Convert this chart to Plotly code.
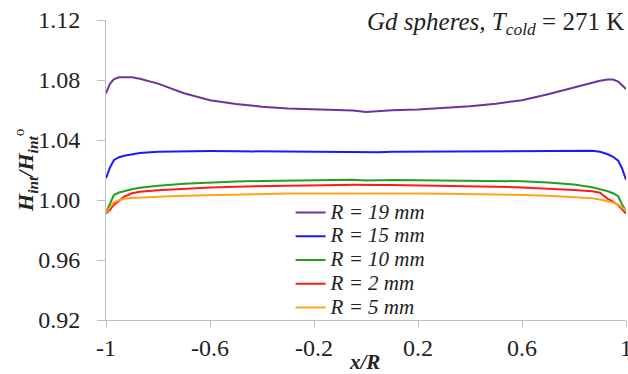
import plotly.graph_objects as go

# ---- data ----
x_pos = [-1, -0.985, -0.97, -0.95, -0.93, -0.9, -0.87, -0.8, -0.7, -0.6, -0.5, -0.4, -0.3,
         -0.2, -0.1, -0.05, 0, 0.05, 0.1, 0.2, 0.3, 0.4, 0.5, 0.6, 0.7, 0.8, 0.87, 0.9,
         0.93, 0.95, 0.97, 0.985, 1]

r19 = [1.0710, 1.0775, 1.0805, 1.0818, 1.0819, 1.0818, 1.0808, 1.0776, 1.0712, 1.0665,
       1.0640, 1.0622, 1.0610, 1.0603, 1.0598, 1.0596, 1.0587, 1.0595, 1.0598, 1.0603,
       1.0612, 1.0625, 1.0642, 1.0665, 1.0705, 1.0752, 1.0783, 1.0795, 1.0803, 1.0803,
       1.0790, 1.0762, 1.0740]
r15 = [1.0145, 1.0215, 1.0265, 1.0285, 1.0295, 1.0305, 1.0313, 1.0322, 1.0325, 1.0326,
       1.0325, 1.0324, 1.0323, 1.0322, 1.0320, 1.0319, 1.0316, 1.0319, 1.0321, 1.0322,
       1.0323, 1.0325, 1.0327, 1.0328, 1.0329, 1.0330, 1.0328, 1.0322, 1.0305, 1.0288,
       1.0262, 1.0210, 1.0135]
r10 = [0.9915, 0.9980, 1.0033, 1.0050, 1.0060, 1.0072, 1.0082, 1.0095, 1.0108, 1.0117,
       1.0123, 1.0127, 1.0130, 1.0132, 1.0133, 1.0135, 1.0130, 1.0133, 1.0133, 1.0132,
       1.0131, 1.0130, 1.0129, 1.0125, 1.0117, 1.0103, 1.0085, 1.0073, 1.0058, 1.0045,
       1.0025, 0.9970, 0.9925]
r2 = [0.9910, 0.9935, 0.9967, 0.9995, 1.0022, 1.0045, 1.0055, 1.0065, 1.0076, 1.0083,
      1.0089, 1.0093, 1.0097, 1.0099, 1.0100, 1.0101, 1.0098, 1.0100, 1.0100, 1.0098,
      1.0096, 1.0093, 1.0089, 1.0084, 1.0077, 1.0067, 1.0058, 1.0048, 1.0008, 0.9990,
      0.9965, 0.9935, 0.9910]
r5 = [0.9915, 0.9950, 0.9985, 1.0000, 1.0008, 1.0013, 1.0017, 1.0022, 1.0028, 1.0033,
      1.0038, 1.0041, 1.0043, 1.0044, 1.0045, 1.0046, 1.0043, 1.0045, 1.0045, 1.0044,
      1.0042, 1.0040, 1.0038, 1.0034, 1.0028, 1.0021, 1.0012, 1.0003, 0.9993, 0.9983,
      0.9970, 0.9950, 0.9928]

series_names = ["R = 19 mm", "R = 15 mm", "R = 10 mm", "R = 2 mm", "R = 5 mm"]
series_values = [r19, r15, r10, r2, r5]
series_colors = ["#7030A0", "#1A1AFF", "#20A020", "#FF1A1A", "#FFA31A"]

x_ticks = [-1, -0.6, -0.2, 0.2, 0.6, 1]
x_tick_labels = ["-1", "-0.6", "-0.2", "0.2", "0.6", "1"]
y_ticks = [0.92, 0.96, 1.00, 1.04, 1.08, 1.12]
y_tick_labels = ["0.92", "0.96", "1.00", "1.04", "1.08", "1.12"]

SERIF = "Liberation Serif"
TICKFONT = dict(family=SERIF, size=24, color="#222222")

fig = go.Figure()
for name, vals, col in zip(series_names, series_values, series_colors):
    fig.add_trace(go.Scatter(x=x_pos, y=vals, mode="lines",
                             name="<span style='font-size:21px'>" + name + "</span>",
                             line=dict(color=col, width=2)))

fig.update_layout(
    xaxis=dict(range=[-1, 1], tickmode="array", tickvals=x_ticks, ticktext=x_tick_labels,
               showgrid=False, zeroline=False, showline=True, automargin=False,
               linecolor="#BFBFBF", linewidth=1, ticks="outside", ticklen=6,
               tickcolor="#BFBFBF", tickwidth=1, tickfont=TICKFONT,
               ticklabeloverflow="allow"),
    yaxis=dict(range=[0.92, 1.12], tickmode="array", tickvals=y_ticks, ticktext=y_tick_labels,
               showgrid=False, zeroline=False, showline=True, automargin=False,
               linecolor="#BFBFBF", linewidth=1, ticks="outside", ticklen=8,
               ticklabelstandoff=12,
               tickcolor="#BFBFBF", tickwidth=1, tickfont=TICKFONT),
)

fig.add_annotation(text="<b><i>H</i></b><sub><b><i>int</i></b></sub><b><i>/H</i></b><sub><b><i>int</i></b></sub><sup>o</sup>",
                   xref="paper", yref="paper", x=-0.156, y=0.5, textangle=-90,
                   xanchor="center", yanchor="middle",
                   showarrow=False, font=dict(family=SERIF, size=22, color="#222222"))
fig.add_annotation(text="<b><i>x/R</i></b>", xref="paper", yref="paper",
                   x=0.498, y=-0.14, xanchor="center", yanchor="middle", showarrow=False,
                   font=dict(family=SERIF, size=21, color="#222222"))
fig.add_annotation(text="<i>Gd spheres, T</i><sub><i>cold</i></sub> = 271 K",
                   xref="paper", yref="paper", x=1.0, y=0.99,
                   xanchor="right", yanchor="middle", showarrow=False,
                   font=dict(family=SERIF, size=25, color="#222222"))

fig.update_layout(
    width=628, height=374,
    font=dict(family=SERIF, color="#222222"),
    margin=dict(l=106, r=2, t=20, b=54, autoexpand=False),
    plot_bgcolor="white", paper_bgcolor="white",
    legend=dict(x=0.355, y=0.415, xanchor="left", yanchor="top",
                bgcolor="rgba(0,0,0,0)", itemwidth=30,
                font=dict(family=SERIF, size=16, style="italic", color="#222222"),
                tracegroupgap=0),
)

fig.write_html("out.html")
